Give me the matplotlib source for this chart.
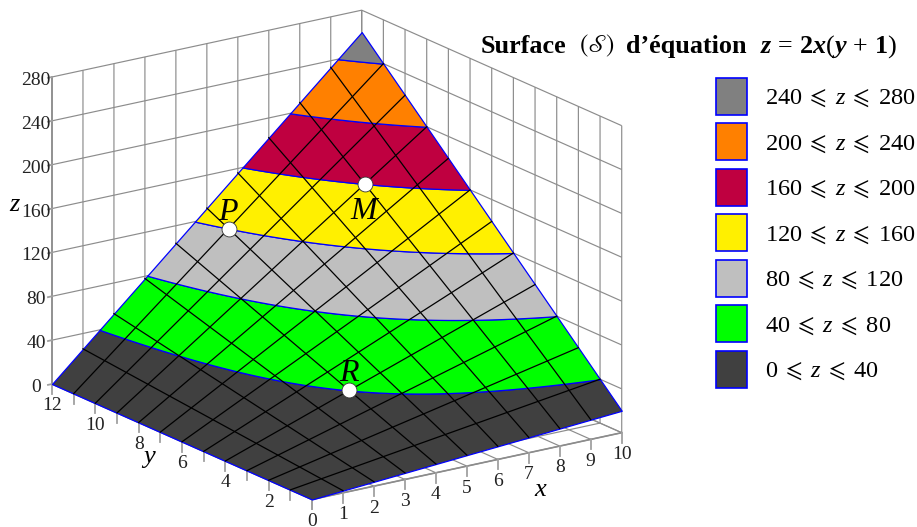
import numpy as np
import matplotlib
matplotlib.use('Agg')
import matplotlib.pyplot as plt
from matplotlib.patches import Patch
from mpl_toolkits.mplot3d import proj3d
from mpl_toolkits.mplot3d.art3d import Poly3DCollection

plt.rcParams['font.family'] = ['Liberation Serif', 'DejaVu Serif']
plt.rcParams['mathtext.fontset'] = 'custom'
plt.rcParams['mathtext.rm'] = 'Liberation Serif'
plt.rcParams['mathtext.it'] = 'Liberation Serif:italic'
plt.rcParams['mathtext.bf'] = 'Liberation Serif:bold'
plt.rcParams['mathtext.bfit'] = 'Liberation Serif:italic:bold'
plt.rcParams['mathtext.fallback'] = 'stix'
plt.rcParams['grid.color'] = '#8c8c8c'
plt.rcParams['grid.linewidth'] = 0.85

GRAY = '#8c8c8c'
TICK_GRAY = '#a0a0a0'
BLUE = '#0000ff'
TEXT = '#222222'

x_ticks = list(range(0, 11))
y_ticks = list(range(0, 13))
y_labeled = [2, 4, 6, 8, 10, 12]
z_ticks = [0, 40, 80, 120, 160, 200, 240, 280]
levels = [0, 40, 80, 120, 160, 200, 240, 280]
band_colors = ['#404040', '#00ff00', '#bfbfbf', '#fff000', '#bf0040', '#ff8000', '#808080']
points_x = [8, 5, 4]
points_y = [9, 11, 4]
points_name = ['M', 'P', 'R']
points_dz = [-25, 15, 15]


def surface(x, y):
    return 2 * x * (y + 1)


def band_polygons():
    # contourf on a throwaway axes, only to get the outline of each band
    fig_tmp, ax_tmp = plt.subplots()
    X, Y = np.meshgrid(np.linspace(0, 10, 201), np.linspace(0, 12, 241))
    cs = ax_tmp.contourf(X, Y, surface(X, Y), levels=levels)
    polys = []
    for path in cs.get_paths():
        polys.append([np.column_stack([p[:, 0], p[:, 1], surface(p[:, 0], p[:, 1])])
                      for p in path.to_polygons()])
    plt.close(fig_tmp)
    return polys


def px_text(x, y, s, **kw):
    # position in pixels of the picture, from its top left corner
    return fig.text(x / 917, 1 - y / 527, s, **kw)


def label3d(x, y, z, s, **kw):
    # text at a 3d position, kept as a plain 2d text of the axes
    xp, yp, _ = proj3d.proj_transform(x, y, z, ax.get_proj())
    return ax.text2D(xp, yp, s, transform=ax.transData, ha='center', va='center', **kw)


fig = plt.figure(figsize=(9.17, 5.27), dpi=100)
S = 653.8
ax = fig.add_axes([(336.85 - S * 0.5135) / 917, (527 - 254.85 - S * 0.5135) / 527, S / 917, S / 527],
                  projection='3d', proj_type='ortho', computed_zorder=False)
ax.view_init(elev=18.03, azim=-124.87)
ax.set_box_aspect((377.5, 454.8, 322.9))
ax.patch.set_alpha(0)

for polys, color in zip(band_polygons(), band_colors):
    ax.add_collection3d(Poly3DCollection(polys, facecolor=color, edgecolor=BLUE,
                                         linewidth=0.9, zorder=1))

# black mesh on the surface
for x in x_ticks[1:-1]:
    ax.plot([x, x], [0, 12], [surface(x, 0), surface(x, 12)], color='black', lw=0.9, zorder=2)
for y in y_ticks[1:-1]:
    ax.plot([0, 10], [y, y], [surface(0, y), surface(10, y)], color='black', lw=0.9, zorder=2)

ax.scatter(points_x, points_y, [surface(x, y) for x, y in zip(points_x, points_y)],
           s=115, c='white', edgecolors='#333333', linewidths=0.6, depthshade=False, zorder=5)

# tick marks
for x in x_ticks:
    ax.plot([x, x], [0, 0], [0, -9], color=TICK_GRAY, lw=1.3, zorder=0)
for y in y_ticks:
    ax.plot([0, 0], [y, y], [0, -9], color=TICK_GRAY, lw=1.3, zorder=0)
for z in z_ticks:
    ax.plot([-0.13, 0], [12, 12], [z, z], color=TICK_GRAY, lw=1.3, zorder=0)

ax.set_xticks(x_ticks)
ax.set_yticks(y_ticks)
ax.set_zticks(z_ticks)
ax.set_xticklabels([])
ax.set_yticklabels([])
ax.set_zticklabels([])
ax.tick_params(axis='both', color='none')
ax.tick_params(axis='z', color='none')
for axis in (ax.xaxis, ax.yaxis, ax.zaxis):
    axis.set_pane_color((1, 1, 1, 0))
    axis.pane.set_edgecolor(GRAY)
    axis.pane.set_linewidth(0.85)
    axis.line.set_color(GRAY)
    axis.line.set_linewidth(1.2)
ax.set_xlim(0, 10, view_margin=0)
ax.set_ylim(0, 12, view_margin=0)
ax.set_zlim(0, 280, view_margin=0)

# labels, once the limits are known
for x in x_ticks:
    label3d(x, 0, -20, str(x), fontsize=14, color=TEXT)
for y in y_labeled:
    label3d(0, y, -20, str(y), fontsize=14, color=TEXT)
for z in z_ticks:
    label3d(-0.52, 12, z, str(z), fontsize=14, color=TEXT)
for x, y, name, dz in zip(points_x, points_y, points_name, points_dz):
    label3d(x, y, surface(x, y) + dz, '$%s$' % name, fontsize=23, zorder=6)

px_text(15, 205, '$z$', fontsize=19, ha='center', va='center')
px_text(149, 459, '$y$', fontsize=19, ha='center', va='center')
px_text(541, 490, '$x$', fontsize=19, ha='center', va='center')

# title, in pieces because of the script S
px_text(481, 52.7, 'Surface', fontsize=18.8, fontweight='bold', va='baseline')
px_text(579, 52.7, r'$(\mathscr{S})$', fontsize=18, va='baseline', math_fontfamily='stix')
px_text(626, 52.7, 'd’équation', fontsize=18.8, fontweight='bold', va='baseline')
px_text(760, 52.7, r'$\mathbfit{z}\,=\,\mathbf{2}\mathbfit{x}(\mathbfit{y}\,+\,\mathbf{1})$',
        fontsize=18.8, va='baseline')

handles = [Patch(facecolor=c, edgecolor=BLUE, linewidth=1.2) for c in band_colors[::-1]]
labels = [r'$%d\;\leqslant\;z\;\leqslant\;%d$' % (lo, hi)
          for lo, hi in zip(levels[-2::-1], levels[:0:-1])]
fig.legend(handles, labels, loc='upper left', bbox_to_anchor=(716 / 917, 1 - 78 / 527),
           frameon=False, fontsize=17.6, borderpad=0, borderaxespad=0, handlelength=1.27,
           handleheight=1.925, labelspacing=0.365, handletextpad=0.74)

fig.savefig('out.png', dpi=100)
